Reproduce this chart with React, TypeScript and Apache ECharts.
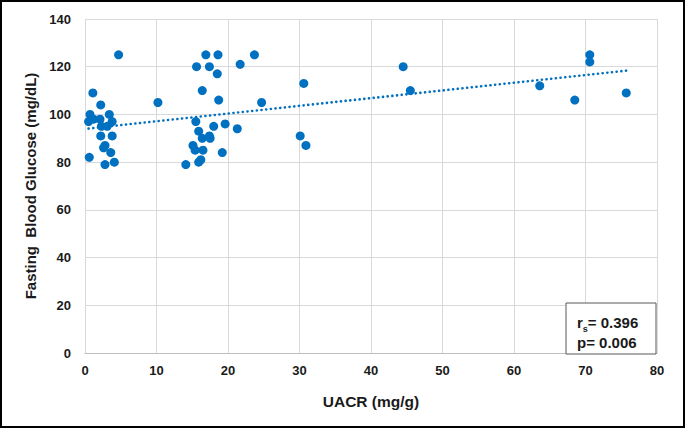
import React, { useEffect, useRef } from "react";
import * as echarts from "echarts";

const uacr: number[] = [
  0.5, 0.7, 1.2, 1.1, 2.1, 2.2, 2.3, 3.1, 3.4, 3.8, 2.2, 3.8, 2.8, 2.6, 3.6, 0.6, 4.1, 2.8, 4.7, 10.2,
  16.9, 18.6, 23.7, 15.6, 17.4, 21.7, 18.5, 30.6, 16.4, 18.7, 24.7, 15.5, 19.6, 18.0, 21.3, 15.9,
  16.4, 17.4, 17.5, 30.1, 30.9, 15.1, 15.4, 16.5, 19.2, 16.2, 15.9, 14.1,
  44.5, 45.5, 63.6, 68.5, 70.6, 70.6, 75.7,
];
const glucose: number[] = [
  97, 100, 98, 109, 98, 104, 95, 95, 100, 97, 91, 91, 87, 86, 84, 82, 80, 79, 125, 105,
  125, 125, 125, 120, 120, 121, 117, 113, 110, 106, 105, 97, 96, 95, 94, 93,
  90, 91, 90, 91, 87, 87, 85, 85, 84, 81, 80, 79,
  120, 110, 112, 106, 125, 122, 109,
];
const xTicks = { min: 0, max: 80, interval: 10 };
const yTicks = { min: 0, max: 140, interval: 20 };
const statsLines: string[] = ["= 0.396", "p= 0.006"];

export default function App() {
  const ref = useRef<HTMLDivElement>(null);
  useEffect(() => {
    document.body.style.margin = "0";
    if (!ref.current) return;
    const chart = echarts.init(ref.current, undefined, { renderer: "svg" });
    const pts = uacr.map((x, i) => [x, glucose[i]]);
    const n = pts.length;
    const mx = uacr.reduce((a, b) => a + b, 0) / n;
    const my = glucose.reduce((a, b) => a + b, 0) / n;
    let sxy = 0, sxx = 0;
    for (let i = 0; i < n; i++) {
      sxy += (uacr[i] - mx) * (glucose[i] - my);
      sxx += (uacr[i] - mx) * (uacr[i] - mx);
    }
    const slope = sxy / sxx;
    const icpt = my - slope * mx;
    const x0 = Math.min(...uacr);
    const x1 = Math.max(...uacr);
    const trend = [[x0, icpt + slope * x0], [x1, icpt + slope * x1]];
    const font = "'Liberation Sans', Arial, sans-serif";
    const blue = "#0070C0";
    const txt = "#1a1a1a";
    chart.setOption({
      animation: false,
      backgroundColor: "#ffffff",
      grid: { left: 85, right: 28, top: 19, bottom: 75 },
      xAxis: {
        type: "value",
        min: xTicks.min, max: xTicks.max, interval: xTicks.interval,
        name: "UACR (mg/g)",
        nameLocation: "middle",
        nameGap: 40,
        nameTextStyle: { fontFamily: font, fontWeight: "bold", fontSize: 15.5, color: txt },
        axisLine: { show: true, lineStyle: { color: "#bfbfbf", width: 1 } },
        axisTick: { show: false },
        axisLabel: { fontFamily: font, fontWeight: "bold", fontSize: 13, color: txt, margin: 11 },
        splitLine: { show: true, lineStyle: { color: "#d9d9d9", width: 1 } },
      },
      yAxis: {
        type: "value",
        min: yTicks.min, max: yTicks.max, interval: yTicks.interval,
        name: "Fasting  Blood Glucose (mg/dL)",
        nameLocation: "middle",
        nameGap: 47,
        nameTextStyle: { fontFamily: font, fontWeight: "bold", fontSize: 15, color: txt },
        axisLine: { show: true, lineStyle: { color: "#d9d9d9", width: 1 } },
        axisTick: { show: false },
        axisLabel: { fontFamily: font, fontWeight: "bold", fontSize: 13, color: txt, margin: 14 },
        splitLine: { show: true, lineStyle: { color: "#d9d9d9", width: 1 } },
      },
      series: [
        {
          type: "line",
          data: trend,
          symbol: "none",
          z: 1,
          lineStyle: { color: blue, width: 2.6, type: [0.1, 4.6], cap: "round" },
        },
        {
          type: "scatter",
          data: pts,
          symbol: "circle",
          symbolSize: 9,
          z: 2,
          itemStyle: { color: blue, opacity: 1 },
        },
      ],
      graphic: [
        {
          type: "rect",
          shape: { x: 1, y: 1, width: 683, height: 426 },
          style: { fill: "none", stroke: "#000000", lineWidth: 2 },
          z: 10,
          silent: true,
        },
        {
          type: "rect",
          shape: { x: 566, y: 303, width: 90, height: 51 },
          style: { fill: "#ffffff", stroke: "#595959", lineWidth: 1 },
          z: 10,
        },
        {
          type: "text",
          x: 577,
          y: 310,
          z: 11,
          style: {
            text: "{a|r}{s|s}{a|" + statsLines[0] + "}\n{a|" + statsLines[1] + "}",
            rich: {
              a: { fontFamily: font, fontWeight: "bold", fontSize: 15, fill: txt, lineHeight: 20, verticalAlign: "bottom" },
              s: { fontFamily: font, fontWeight: "bold", fontSize: 9, fill: txt, lineHeight: 20, verticalAlign: "bottom", padding: [0, 0, -3, 0] },
            },
          },
        },
      ],
    });
    return () => chart.dispose();
  }, []);
  return <div ref={ref} style={{ position: "absolute", left: 0, top: 0, width: 685, height: 428 }} />;
}
